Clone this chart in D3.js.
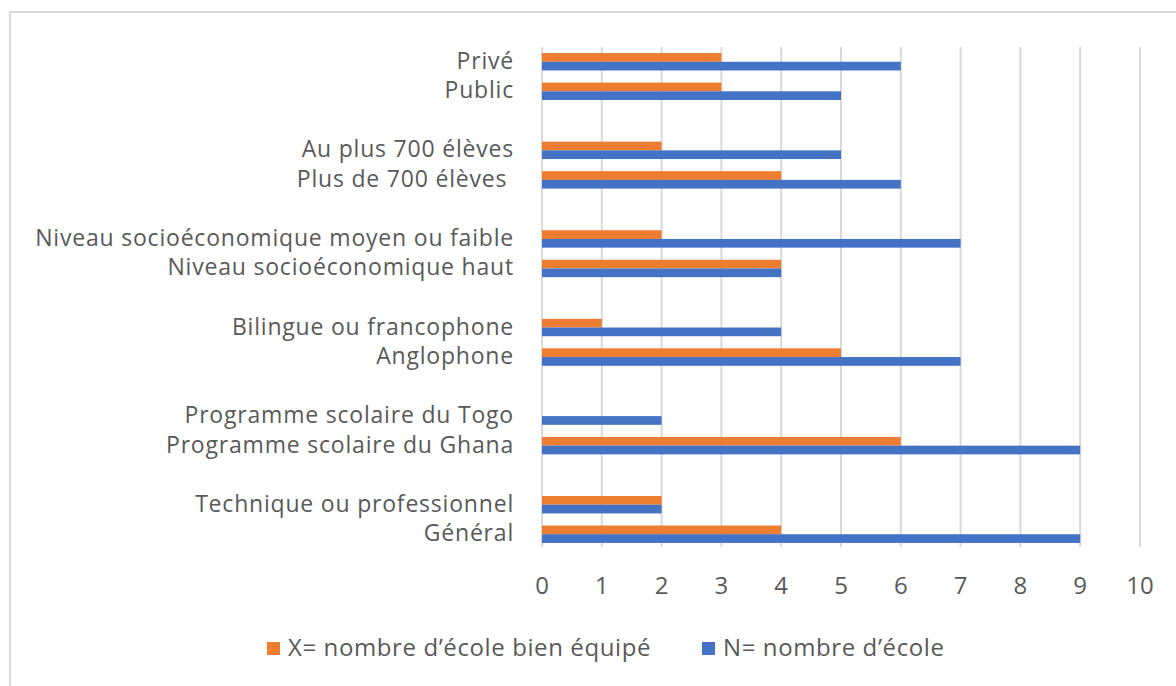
<!DOCTYPE html>
<html>
<head>
<meta charset="utf-8">
<script src="https://cdn.jsdelivr.net/npm/d3@7"></script>
<style>
  html, body { margin: 0; padding: 0; background: #fff; }
  svg { display: block; }
  text { font-family: "Open Sans", Lato, sans-serif; fill: #595959; }
</style>
</head>
<body>
<svg id="chart" width="1176" height="686"></svg>
<script>
// Category rows, top to bottom; empty strings are spacer rows between groups.
const categories = [
  "Privé", "Public", "",
  "Au plus 700 élèves", "Plus de 700 élèves\u00a0", "",
  "Niveau socioéconomique moyen ou faible", "Niveau socioéconomique haut", "",
  "Bilingue ou francophone", "Anglophone", "",
  "Programme scolaire du Togo", "Programme scolaire du Ghana", "",
  "Technique ou professionnel", "Général"
];
// X = well-equipped schools, N = schools (null on spacer rows)
const wellEquipped = [3, 3, null, 2, 4, null, 2, 4, null, 1, 5, null, 0, 6, null, 2, 4];
const schoolCount  = [6, 5, null, 5, 6, null, 7, 4, null, 4, 7, null, 2, 9, null, 2, 9];
const seriesNames = ["X= nombre d’école bien équipé", "N= nombre d’école"];
const seriesColors = ["#ED7D31", "#4472C4"];
const xTicks = [0, 1, 2, 3, 4, 5, 6, 7, 8, 9, 10];

const svg = d3.select("#chart");

// Outer frame
svg.append("rect")
  .attr("x", 10).attr("y", 12)
  .attr("width", 1200).attr("height", 700)
  .attr("fill", "none").attr("stroke", "#d9d9d9").attr("stroke-width", 2);

const plot = { left: 542, right: 1140, top: 47, bottom: 549 };

const x = d3.scaleLinear().domain([0, 10]).range([plot.left, plot.right]);
const y = d3.scaleBand()
  .domain(d3.range(categories.length))
  .range([plot.top, plot.bottom])
  .paddingInner(0.41).paddingOuter(0.205);
const ySub = d3.scaleBand().domain([0, 1]).range([0, y.bandwidth()]);

// Vertical gridlines
svg.append("g")
  .selectAll("line")
  .data(xTicks)
  .join("line")
  .attr("x1", d => x(d)).attr("x2", d => x(d))
  .attr("y1", plot.top).attr("y2", plot.bottom - 2)
  .attr("stroke", "#d9d9d9").attr("stroke-width", 2);

// Bars
const rows = categories.map((c, i) => ({ i, values: [wellEquipped[i], schoolCount[i]] }));
const rowG = svg.append("g")
  .selectAll("g")
  .data(rows.filter(r => r.values[1] !== null))
  .join("g")
  .attr("transform", r => `translate(0,${y(r.i)})`);

rowG.selectAll("rect")
  .data(r => r.values.map((v, s) => ({ v, s })))
  .join("rect")
  .attr("x", x(0))
  .attr("y", d => ySub(d.s))
  .attr("width", d => x(d.v) - x(0))
  .attr("height", ySub.bandwidth())
  .attr("fill", d => seriesColors[d.s]);

// Category labels
svg.append("g")
  .selectAll("text")
  .data(categories.map((c, i) => ({ c, i })).filter(d => d.c !== ""))
  .join("text")
  .attr("x", 514)
  .attr("y", d => y(d.i) + y.bandwidth() / 2 - 2)
  .attr("text-anchor", "end")
  .attr("dominant-baseline", "central")
  .attr("font-size", 23)
  .attr("letter-spacing", 0.8)
  .text(d => d.c);

// X tick labels
svg.append("g")
  .selectAll("text")
  .data(xTicks)
  .join("text")
  .attr("x", d => x(d))
  .attr("y", 594)
  .attr("text-anchor", "middle")
  .attr("font-size", 24)
  .text(d => d);

// Legend
const legendX = [267, 702];
const legend = svg.append("g")
  .selectAll("g")
  .data(seriesNames)
  .join("g")
  .attr("transform", (d, i) => `translate(${legendX[i]},642)`);
legend.append("rect")
  .attr("width", 13).attr("height", 13)
  .attr("fill", (d, i) => seriesColors[i]);
legend.append("text")
  .attr("x", 21).attr("y", 14)
  .attr("font-size", 24)
  .attr("letter-spacing", 0.6)
  .text(d => d);
</script>
</body>
</html>
